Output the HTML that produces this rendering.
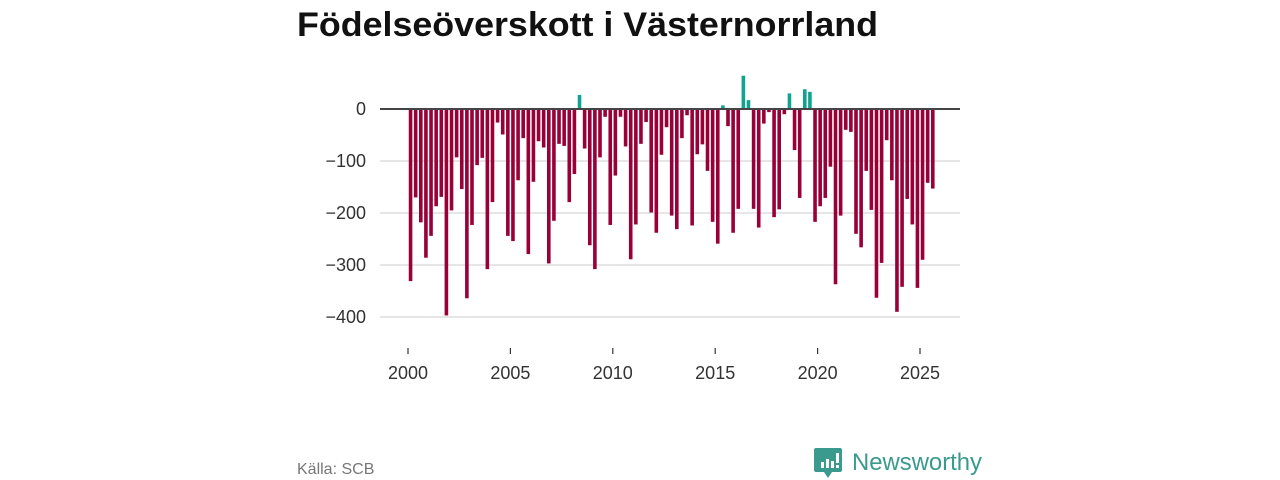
<!DOCTYPE html>
<html><head><meta charset="utf-8"><style>
html,body{margin:0;padding:0;background:#fff;}
svg{display:block;font-family:"Liberation Sans",sans-serif;}
</style></head><body>
<svg id="chart" width="1280" height="480" viewBox="0 0 1280 480">
<text x="297" y="36" font-size="34" font-weight="bold" fill="#111" textLength="581" lengthAdjust="spacingAndGlyphs">Födelseöverskott i Västernorrland</text>
<g id="grid"></g>
<g id="bars"></g>
<line x1="380" x2="960" y1="109" y2="109" stroke="#444" stroke-width="2"/>
<g id="xaxis"></g>
<text x="297" y="474" font-size="16" fill="#777">Källa: SCB</text>
<g>
<path d="M816 448 h24 a2 2 0 0 1 2 2 v20 a2 2 0 0 1 -2 2 h-8 l-4 6 l-4 -6 h-8 a2 2 0 0 1 -2 -2 v-20 a2 2 0 0 1 2 -2z" fill="#3a9a8e"/>
<rect x="821" y="462" width="3" height="6" fill="#fff"/><rect x="826" y="459" width="3" height="9" fill="#fff"/><rect x="831" y="461" width="3" height="7" fill="#fff"/><rect x="836" y="453" width="3" height="10" fill="#fff"/><rect x="836" y="465" width="3" height="3" fill="#fff"/>
<text x="852" y="470" font-size="24" fill="#3a9a8e" textLength="130" lengthAdjust="spacingAndGlyphs">Newsworthy</text>
</g>
</svg>
<script>
const values = [-331,-170,-218,-286,-244,-187,-169,-397,-195,-93,-154,-364,-223,-108,-94,-308,-179,-26,-49,-244,-254,-137,-56,-279,-140,-62,-74,-297,-215,-67,-71,-179,-125,27,-76,-262,-308,-93,-15,-223,-128,-15,-72,-289,-222,-67,-25,-199,-238,-88,-35,-205,-231,-56,-12,-224,-87,-68,-119,-217,-259,7,-33,-238,-192,64,17,-192,-228,-28,-6,-208,-193,-10,30,-79,-171,38,33,-217,-187,-171,-111,-337,-205,-40,-44,-240,-266,-119,-194,-363,-296,-60,-137,-390,-342,-173,-222,-344,-290,-142,-153];
const startYear = 2000;
const yTicks = [0,-100,-200,-300,-400];
const yTickLabels = ["0","−100","−200","−300","−400"];
const xTicks = [2000,2005,2010,2015,2020,2025];
const NS="http://www.w3.org/2000/svg";
function x(t){return 408 + (t-2000)*20.48;}
function y(v){return 109 - v*0.52;}
const grid=document.getElementById('grid');
yTicks.forEach((t,i)=>{
  if(t!==0){const l=document.createElementNS(NS,'line');
  l.setAttribute('x1',380);l.setAttribute('x2',960);l.setAttribute('y1',y(t));l.setAttribute('y2',y(t));
  l.setAttribute('stroke','#ddd');l.setAttribute('stroke-width','1.5');
  
  
  grid.appendChild(l);}
  const tx=document.createElementNS(NS,'text');
  tx.setAttribute('x',366);tx.setAttribute('y',y(t)+6);tx.setAttribute('text-anchor','end');
  tx.setAttribute('font-size','18');tx.setAttribute('fill','#333');tx.textContent=yTickLabels[i];
  
  
  grid.appendChild(tx);
});
const xa=document.getElementById('xaxis');
xTicks.forEach(t=>{
  const l=document.createElementNS(NS,'line');
  l.setAttribute('x1',x(t));l.setAttribute('x2',x(t));l.setAttribute('y1',348);l.setAttribute('y2',354);
  l.setAttribute('stroke','#333');l.setAttribute('stroke-width','1.2');
  
  
  xa.appendChild(l);
  const tx=document.createElementNS(NS,'text');
  tx.setAttribute('x',x(t));tx.setAttribute('y',379);tx.setAttribute('text-anchor','middle');
  tx.setAttribute('font-size','18');tx.setAttribute('fill','#333');tx.textContent=t;
  
  
  xa.appendChild(tx);
});
const bars=document.getElementById('bars');
values.forEach((v,i)=>{
  const t=startYear+i/4;
  const r=document.createElementNS(NS,'rect');
  const cx=x(t)+2.56;
  r.setAttribute('x',cx-1.8);r.setAttribute('width',3.6);
  r.setAttribute('y',Math.min(y(v),y(0)));r.setAttribute('height',Math.abs(y(v)-y(0)));
  r.setAttribute('fill',v>=0?'#0fa390':'#990038');
  
  
  bars.appendChild(r);
});
</script>
</body></html>
